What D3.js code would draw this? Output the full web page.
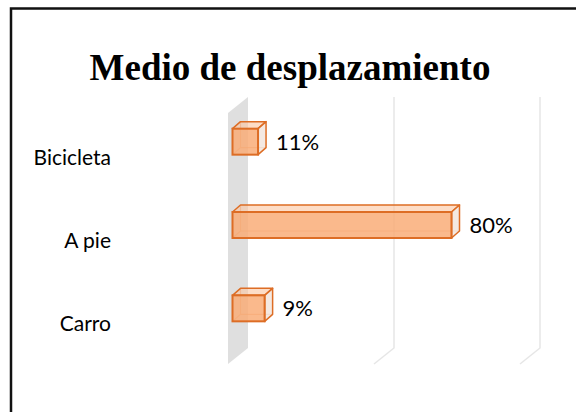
<!DOCTYPE html>
<html>
<head>
<meta charset="utf-8">
<script src="https://cdn.jsdelivr.net/npm/d3@7"></script>
<style>
  body { margin: 0; background: #fff; }
  .cat { font-family: Lato, "Open Sans", sans-serif; font-size: 21px; fill: #000; }
  .val { font-family: Lato, "Open Sans", sans-serif; font-size: 22px; fill: #000; }
  .title { font-family: "Liberation Serif", "Times New Roman", serif; font-weight: bold; font-size: 37px; fill: #000; }
</style>
</head>
<body>
<svg width="576" height="412"></svg>
<script>
// datos
const CATEGORIES = ['Bicicleta', 'A pie', 'Carro'];
const BAR_VALUES = [3.5, 30, 4.4];       // largo de las barras
const BAR_LABELS = ['11%', '80%', '9%'];  // etiquetas tal como aparecen
const GRID_TICKS = [0, 20, 40];

const svg = d3.select('svg');
const WIDTH = +svg.attr('width');
const HEIGHT = +svg.attr('height');

const barFill = '#F9AD78';
const barTop = '#FBC6A2';
const barSide = '#F1E4DB';
const barStroke = '#DD6D25';
const gridColor = '#E6E6E6';
const wallColor = '#DFDFDF';

// profundidad de la pared y de las barras (3D)
const DX = 20, DY = 16;
const BDX = 8, BDY = 7;
const barH = 26;
const plotTop = 97, plotBottom = 348;

// marco
svg.append('path')
  .attr('d', `M11,${HEIGHT} L11,8.5 L${WIDTH},8.5`)
  .attr('fill', 'none')
  .attr('stroke', '#111')
  .attr('stroke-width', 2.5);

// titulo
svg.append('text')
  .attr('class', 'title')
  .attr('x', 290)
  .attr('y', 80)
  .attr('text-anchor', 'middle')
  .text('Medio de desplazamiento');

//-----------------------escalas-----------------------//
const x = d3.scaleLinear()
  .domain([0, 40])
  .range([228, 520]);

const y = d3.scalePoint()
  .domain(CATEGORIES)
  .range([100, 350])
  .padding(0.5);

//-----------------------pared y grilla-----------------------//
const g = svg.append('g');

// pared lateral (valor 0)
g.append('path')
  .attr('d', `M${x(0)},${plotTop + DY} L${x(0) + DX},${plotTop} L${x(0) + DX},${plotBottom} L${x(0)},${plotBottom + DY} Z`)
  .attr('fill', wallColor);

// lineas de la grilla en el fondo y en el piso
g.selectAll('.grid')
  .data(GRID_TICKS.filter(d => d > 0))
  .join('path')
  .attr('class', 'grid')
  .attr('d', d => `M${x(d) + DX},${plotTop} L${x(d) + DX},${plotBottom} L${x(d)},${plotBottom + DY}`)
  .attr('fill', 'none')
  .attr('stroke', gridColor)
  .attr('stroke-width', 1.5);

//-----------------------barras-----------------------//
const data = CATEGORIES.map((c, i) => ({ cat: c, value: BAR_VALUES[i], label: BAR_LABELS[i] }));
const x0 = x(0) + 4.5;

const bars = g.selectAll('.bar')
  .data(data)
  .join('g')
  .attr('class', 'bar');

// aristas ocultas (se ven por transparencia)
bars.append('path')
  .attr('d', d => {
    const x1 = x(d.value) + 4.5;
    const yt = y(d.cat) - barH / 2, yb = y(d.cat) + barH / 2;
    return `M${x0},${yb} L${x0 + BDX},${yb - BDY} L${x1 + BDX},${yb - BDY} M${x0 + BDX},${yb - BDY} L${x0 + BDX},${yt - BDY}`;
  })
  .attr('fill', 'none')
  .attr('stroke', barStroke)
  .attr('stroke-opacity', 0.45)
  .attr('stroke-width', 1.2);

// cara superior
bars.append('path')
  .attr('d', d => {
    const x1 = x(d.value) + 4.5;
    const yt = y(d.cat) - barH / 2;
    return `M${x0},${yt} L${x1},${yt} L${x1 + BDX},${yt - BDY} L${x0 + BDX},${yt - BDY} Z`;
  })
  .attr('fill', barTop)
  .attr('fill-opacity', 0.6)
  .attr('stroke', barStroke)
  .attr('stroke-width', 1.5)
  .attr('stroke-linejoin', 'round');

// cara lateral
bars.append('path')
  .attr('d', d => {
    const x1 = x(d.value) + 4.5;
    const yt = y(d.cat) - barH / 2, yb = y(d.cat) + barH / 2;
    return `M${x1},${yt} L${x1 + BDX},${yt - BDY} L${x1 + BDX},${yb - BDY} L${x1},${yb} Z`;
  })
  .attr('fill', barSide)
  .attr('fill-opacity', 0.8)
  .attr('stroke', barStroke)
  .attr('stroke-width', 1.5)
  .attr('stroke-linejoin', 'round');

// cara frontal
bars.append('rect')
  .attr('x', x0)
  .attr('y', d => y(d.cat) - barH / 2)
  .attr('width', d => x(d.value) - x(0))
  .attr('height', barH)
  .attr('fill', barFill)
  .attr('fill-opacity', 0.85)
  .attr('stroke', barStroke)
  .attr('stroke-width', 2);

// etiquetas de valor
bars.append('text')
  .attr('class', 'val')
  .attr('x', d => x(d.value) + 4.5 + BDX + 10)
  .attr('y', d => y(d.cat))
  .attr('dy', '0.36em')
  .text(d => d.label);

//-----------------------categorias-----------------------//
g.selectAll('.cat')
  .data(CATEGORIES)
  .join('text')
  .attr('class', 'cat')
  .attr('x', 111)
  .attr('y', d => y(d) + 23)
  .attr('text-anchor', 'end')
  .text(d => d);
</script>
</body>
</html>
